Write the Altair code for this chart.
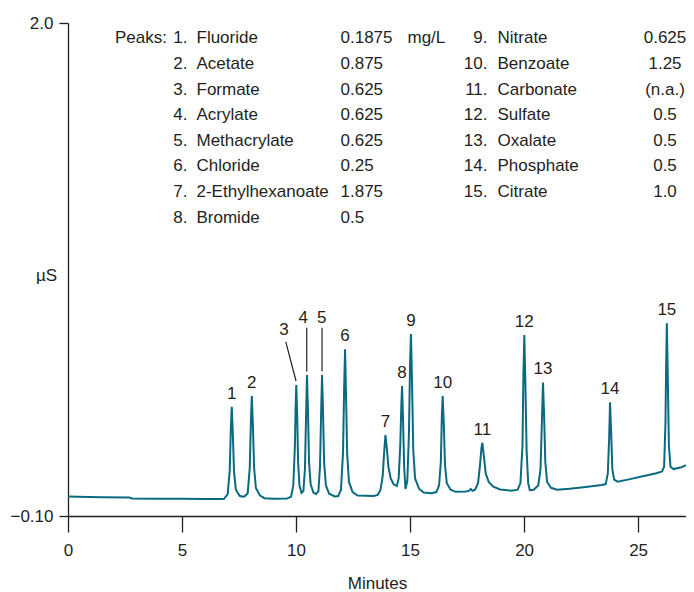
import altair as alt
import pandas as pd

# ---- chromatogram trace (minutes, µS) ----
trace_t = [0.00, 0.40, 1.50, 2.70, 2.80, 4.00, 5.00, 6.00, 6.83,
           7.00, 7.09, 7.14, 7.18, 7.23, 7.28, 7.36, 7.53, 7.65,
           7.75, 7.88, 7.97, 8.02, 8.06, 8.11, 8.16, 8.24, 8.41, 8.61,
           9.00, 9.60, 9.78, 9.88, 9.95, 9.98, 10.01, 10.05, 10.09, 10.15, 10.24,
           10.32, 10.39, 10.44, 10.48, 10.52, 10.57, 10.64, 10.76, 10.88,
           10.98, 11.05, 11.10, 11.14, 11.18, 11.23, 11.31, 11.45, 11.70,
           11.85, 11.97, 12.06, 12.11, 12.15, 12.19, 12.24, 12.32, 12.48, 12.70,
           13.40, 13.58, 13.70, 13.80, 13.87, 13.92, 13.98, 14.05, 14.15, 14.28, 14.42,
           14.50, 14.57, 14.62, 14.65, 14.69, 14.74, 14.80,
           14.88, 14.95, 15.00, 15.04, 15.09, 15.14, 15.22, 15.40, 15.60, 15.95,
           16.15, 16.27, 16.35, 16.39, 16.43, 16.48, 16.53, 16.61, 16.78, 17.00,
           17.45, 17.58, 17.66, 17.74,
           17.85, 17.98, 18.07, 18.13, 18.17, 18.23, 18.32, 18.45, 18.65, 18.95, 19.45,
           19.72, 19.84, 19.93, 19.97, 20.01, 20.06, 20.11, 20.18, 20.25,
           20.42, 20.62, 20.72, 20.78, 20.83, 20.88, 20.93, 21.01, 21.18, 21.45,
           22.00, 22.70, 23.40,
           23.58, 23.67, 23.73, 23.77, 23.82, 23.87, 23.95, 24.10,
           24.60, 25.20, 25.80,
           26.05, 26.14, 26.20, 26.23, 26.26, 26.30, 26.35, 26.42, 26.55, 26.90, 27.30]
trace_v = [-0.017, -0.018, -0.020, -0.021, -0.025, -0.026, -0.027, -0.028, -0.028,
           -0.008, 0.090, 0.265, 0.365, 0.245, 0.090, 0.012, -0.014, -0.018,
           -0.016, -0.003, 0.105, 0.300, 0.411, 0.280, 0.105, 0.019, -0.012, -0.024,
           -0.027, -0.026, -0.018, 0.030, 0.200, 0.360, 0.458, 0.330, 0.130, 0.030, -0.002,
           0.005, 0.100, 0.330, 0.500, 0.360, 0.130, 0.035, 0.000, -0.006,
           0.005, 0.110, 0.340, 0.500, 0.360, 0.130, 0.030, -0.005, -0.017,
           -0.015, 0.012, 0.170, 0.450, 0.610, 0.430, 0.170, 0.045, 0.002, -0.013,
           -0.015, -0.010, 0.010, 0.070, 0.180, 0.245, 0.190, 0.110, 0.060, 0.035, 0.028,
           0.060, 0.200, 0.380, 0.454, 0.320, 0.110, 0.015,
           0.050, 0.250, 0.550, 0.675, 0.450, 0.180, 0.060, 0.015, 0.000, -0.003,
           0.002, 0.030, 0.130, 0.310, 0.411, 0.290, 0.120, 0.040, 0.012, 0.003,
           0.004, 0.007, 0.015, 0.007,
           0.012, 0.040, 0.120, 0.190, 0.212, 0.160, 0.080, 0.045, 0.025, 0.013, 0.008,
           0.012, 0.040, 0.200, 0.500, 0.671, 0.450, 0.180, 0.040, 0.010,
           0.012, 0.030, 0.100, 0.300, 0.469, 0.320, 0.130, 0.045, 0.020, 0.012,
           0.016, 0.024, 0.032,
           0.036, 0.080, 0.230, 0.384, 0.250, 0.100, 0.055, 0.046,
           0.056, 0.069, 0.082,
           0.090, 0.110, 0.300, 0.550, 0.721, 0.500, 0.200, 0.110, 0.100, 0.108, 0.124]

# ---- peak labels ----
peak_ids = ["1", "2", "6", "7", "8", "9", "10", "11", "12", "13", "14", "15"]
peak_time = [7.18, 8.06, 12.15, 13.92, 14.65, 15.04, 16.43, 18.17, 20.01, 20.83, 23.77, 26.26]
peak_height = [0.365, 0.411, 0.610, 0.245, 0.454, 0.675, 0.411, 0.212, 0.671, 0.469, 0.384, 0.721]

callout_ids = ["3", "4", "5"]
callout_label_t = [9.47, 10.32, 11.13]
callout_label_v = [0.692, 0.742, 0.743]
callout_t1 = [9.55, 10.47, 11.14]
callout_v1 = [0.642, 0.702, 0.702]
callout_t2 = [10.00, 10.47, 11.14]
callout_v2 = [0.475, 0.515, 0.515]

# ---- peak table ----
left_nums = ["1.", "2.", "3.", "4.", "5.", "6.", "7.", "8."]
left_names = ["Fluoride", "Acetate", "Formate", "Acrylate", "Methacrylate",
              "Chloride", "2-Ethylhexanoate", "Bromide"]
left_conc = ["0.1875", "0.875", "0.625", "0.625", "0.625", "0.25", "1.875", "0.5"]
right_nums = ["9.", "10.", "11.", "12.", "13.", "14.", "15."]
right_names = ["Nitrate", "Benzoate", "Carbonate", "Sulfate", "Oxalate",
               "Phosphate", "Citrate"]
right_conc = ["0.625", "1.25", "(n.a.)", "0.5", "0.5", "0.5", "1.0"]

FONT = "'Liberation Sans', Arial, sans-serif"
INK = "#231f20"
TEAL = "#0a6a80"
FS = 17

df_trace = pd.DataFrame({"t": trace_t, "v": trace_v})
df_peaks = pd.DataFrame({"id": peak_ids, "t": peak_time, "h": peak_height})
df_call = pd.DataFrame({"id": callout_ids, "lt": callout_label_t, "lv": callout_label_v,
                        "t1": callout_t1, "v1": callout_v1, "t2": callout_t2, "v2": callout_v2})
df_left = pd.DataFrame({"row": list(range(len(left_nums))), "num": left_nums,
                        "name": left_names, "conc": left_conc})
df_right = pd.DataFrame({"row": list(range(len(right_nums))), "num": right_nums,
                         "name": right_names, "conc": right_conc})
df_head = pd.DataFrame({"row": [0], "peaks": ["Peaks:"], "unit": ["mg/L"]})

x_scale = alt.Scale(domain=[0, 27.1], nice=False, zero=False)
y_scale = alt.Scale(domain=[-0.1, 2.0], nice=False, zero=False)

x_axis = alt.Axis(values=[0, 5, 10, 15, 20, 25], format="d", title="Minutes",
                  tickSize=16, labelPadding=10, titleY=72, titleBaseline="alphabetic",
                  labelFlush=False, grid=False)
y_axis = alt.Axis(values=[-0.1, 2.0], title="µS", titleAngle=0, titleX=-22,
                  titleY=252, titleBaseline="middle", titleAlign="center",
                  labelExpr="datum.value > 1 ? '2.0' : '\u22120.10'",
                  tickSize=9, labelPadding=6, labelFlush=False, grid=False)

trace = alt.Chart(df_trace).mark_line(color=TEAL, strokeWidth=2, clip=True).encode(
    x=alt.X("t:Q", scale=x_scale, axis=x_axis),
    y=alt.Y("v:Q", scale=y_scale, axis=y_axis),
)

labels = alt.Chart(df_peaks).mark_text(dy=-13, fontSize=FS, font=FONT, color=INK,
                                       baseline="middle", align="center").encode(
    x=alt.X("t:Q", scale=x_scale), y=alt.Y("h:Q", scale=y_scale), text="id:N")

call_text = alt.Chart(df_call).mark_text(fontSize=FS, font=FONT, color=INK,
                                         baseline="middle", align="center").encode(
    x=alt.X("lt:Q", scale=x_scale), y=alt.Y("lv:Q", scale=y_scale), text="id:N")

call_rule = alt.Chart(df_call).mark_rule(color=INK, strokeWidth=1.2).encode(
    x=alt.X("t1:Q", scale=x_scale), y=alt.Y("v1:Q", scale=y_scale),
    x2="t2:Q", y2="v2:Q")

main = alt.layer(trace, labels, call_text, call_rule)

row_y = alt.Y("row:Q", scale=alt.Scale(domain=[0, 7], range=[15.3, 194.7]), axis=None)


def col(df, field, x, align):
    return alt.Chart(df).mark_text(fontSize=FS, font=FONT, color=INK,
                                   baseline="middle", align=align).encode(
        x=alt.value(x), y=row_y, text=f"{field}:N")


table = alt.layer(
    col(df_head, "peaks", 47, "left"),
    col(df_left, "num", 119.5, "right"),
    col(df_left, "name", 128.5, "left"),
    col(df_left, "conc", 272.5, "left"),
    col(df_head, "unit", 339.5, "left"),
    col(df_right, "num", 419.5, "right"),
    col(df_right, "name", 429.5, "left"),
    col(df_right, "conc", 597, "center"),
)

chart = alt.layer(main, table).resolve_scale(y="independent").properties(
    width=618, height=493,
    autosize=alt.AutoSizeParams(type="none"),
    padding={"left": 60, "top": 15, "right": 0, "bottom": 76},
).configure_view(stroke=None).configure_axis(
    domainColor=INK, tickColor=INK, labelColor=INK, titleColor=INK,
    domainWidth=1.3, tickWidth=1.3,
    labelFont=FONT, titleFont=FONT, labelFontSize=FS, titleFontSize=FS,
    titleFontWeight="normal",
)

chart.save("out.html", embed_options={"renderer": "svg", "actions": False})
